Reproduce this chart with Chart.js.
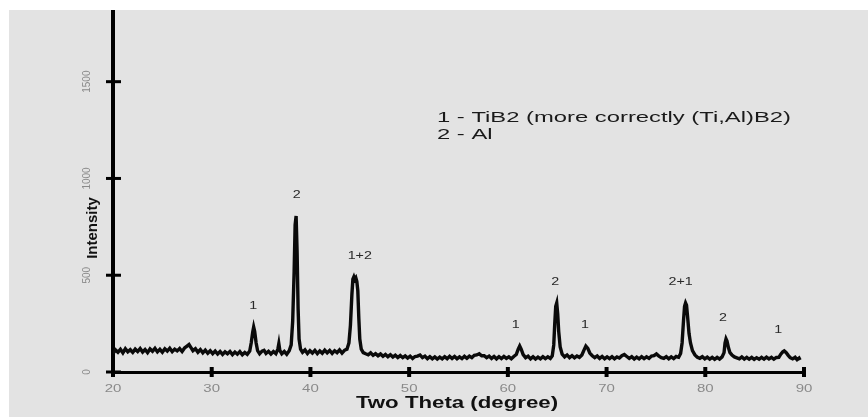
<!DOCTYPE html>
<html>
<head>
<meta charset="utf-8">
<script src="https://cdn.jsdelivr.net/npm/chart.js@4.4.0/dist/chart.umd.min.js"></script>
<style>
  html, body { margin: 0; padding: 0; background: #fff; }
  #wrap { width: 868px; height: 417px; }
</style>
</head>
<body>
<div id="wrap"><canvas id="xrd" width="868" height="417"></canvas></div>
<script>
// diffraction pattern
const twoTheta = [
  20.0, 20.25, 20.5, 20.75, 21.0, 21.25, 21.5, 21.75, 22.0, 22.25, 22.5, 22.75,
  23.0, 23.25, 23.5, 23.75, 24.0, 24.25, 24.5, 24.75, 25.0, 25.25, 25.5, 25.75,
  26.0, 26.25, 26.5, 26.75, 27.0, 27.25, 27.5, 27.7, 27.9, 28.1, 28.35, 28.6,
  28.85, 29.1, 29.35, 29.6, 29.85, 30.1, 30.35, 30.6, 30.85, 31.1, 31.35, 31.6,
  31.85, 32.1, 32.35, 32.6, 32.85, 33.1, 33.35, 33.6, 33.85, 34.0, 34.15, 34.25,
  34.35, 34.5, 34.65, 34.85, 35.1, 35.3, 35.5, 35.75, 36.0, 36.25, 36.5, 36.7,
  36.8, 36.9, 37.1, 37.35, 37.6, 37.85, 38.05, 38.2, 38.35, 38.45, 38.55, 38.65,
  38.75, 38.85, 39.0, 39.2, 39.45, 39.7, 39.95, 40.2, 40.45, 40.7, 40.95, 41.2,
  41.45, 41.7, 41.95, 42.2, 42.45, 42.7, 42.95, 43.2, 43.45, 43.7, 43.9, 44.05,
  44.2, 44.3, 44.4, 44.5, 44.6, 44.7, 44.8, 44.9, 45.0, 45.15, 45.35, 45.6,
  45.85, 46.1, 46.35, 46.6, 46.85, 47.1, 47.35, 47.6, 47.85, 48.1, 48.35, 48.6,
  48.85, 49.1, 49.35, 49.6, 49.85, 50.1, 50.35, 50.6, 50.85, 51.1, 51.35, 51.6,
  51.85, 52.1, 52.35, 52.6, 52.85, 53.1, 53.35, 53.6, 53.85, 54.1, 54.35, 54.6,
  54.85, 55.1, 55.35, 55.6, 55.85, 56.1, 56.35, 56.6, 56.85, 57.1, 57.35, 57.6,
  57.85, 58.1, 58.35, 58.6, 58.85, 59.1, 59.35, 59.6, 59.85, 60.1, 60.35, 60.6,
  60.85, 61.05, 61.2, 61.35, 61.55, 61.8, 62.05, 62.3, 62.55, 62.8, 63.05, 63.3,
  63.55, 63.8, 64.05, 64.3, 64.5, 64.65, 64.75, 64.85, 64.95, 65.05, 65.15, 65.3,
  65.5, 65.75, 66.0, 66.25, 66.5, 66.75, 67.0, 67.25, 67.5, 67.7, 67.9, 68.1,
  68.3, 68.55, 68.8, 69.05, 69.3, 69.55, 69.8, 70.05, 70.3, 70.55, 70.8, 71.05,
  71.3, 71.55, 71.8, 72.05, 72.3, 72.55, 72.8, 73.05, 73.3, 73.55, 73.8, 74.05,
  74.3, 74.55, 74.8, 75.05, 75.3, 75.55, 75.8, 76.05, 76.3, 76.55, 76.8, 77.05,
  77.3, 77.5, 77.65, 77.8, 77.9, 78.0, 78.1, 78.2, 78.35, 78.5, 78.7, 78.95,
  79.2, 79.45, 79.7, 79.95, 80.2, 80.45, 80.7, 80.95, 81.2, 81.45, 81.7, 81.9,
  82.0, 82.1, 82.2, 82.35, 82.5, 82.7, 82.95, 83.2, 83.45, 83.7, 83.95, 84.2,
  84.45, 84.7, 84.95, 85.2, 85.45, 85.7, 85.95, 86.2, 86.45, 86.7, 86.95, 87.2,
  87.45, 87.65, 87.85, 88.0, 88.2, 88.4, 88.6, 88.85, 89.1, 89.3, 89.5, 89.6
];
const intensity = [
  96, 114, 102, 117, 99, 120, 104, 115, 101, 118, 106, 121,
  103, 116, 100, 119, 107, 122, 104, 117, 102, 120, 108, 123,
  105, 118, 109, 121, 106, 124, 134, 142, 126, 110, 120, 102,
  116, 99, 113, 97, 110, 95, 108, 93, 106, 91, 104, 94,
  106, 90, 103, 92, 105, 89, 101, 91, 108, 150, 205, 232,
  210, 150, 110, 94, 108, 112, 96, 107, 93, 106, 95, 118,
  146, 112, 94, 106, 92, 110, 140, 260, 520, 760, 806, 620,
  330, 170, 118, 102, 114, 96, 110, 98, 112, 95, 109, 97,
  113, 99, 111, 96, 110, 100, 114, 98, 112, 118, 150, 240,
  400, 480, 492, 478, 486, 468, 420, 280, 170, 118, 100, 94,
  89, 99, 86, 95, 84, 93, 81, 91, 79, 89, 77, 87,
  75, 85, 74, 83, 72, 82, 70, 80, 82, 88, 74, 82,
  69, 79, 68, 78, 67, 77, 68, 79, 69, 81, 70, 80,
  68, 78, 69, 81, 71, 82, 74, 86, 88, 94, 84, 84,
  74, 82, 70, 80, 68, 79, 69, 80, 70, 78, 68, 80,
  90, 118, 134, 118, 90, 74, 82, 68, 79, 67, 77, 68,
  79, 69, 78, 70, 84, 140, 250, 340, 357, 300, 210, 130,
  92, 78, 88, 74, 84, 73, 83, 76, 88, 112, 134, 122,
  98, 84, 74, 83, 70, 80, 68, 78, 69, 79, 68, 78,
  72, 84, 90, 80, 70, 79, 67, 77, 68, 79, 69, 78,
  70, 82, 84, 93, 82, 74, 70, 79, 68, 78, 69, 80,
  76, 96, 150, 270, 340, 357, 345, 290, 200, 150, 110, 88,
  76, 71, 79, 68, 77, 67, 76, 66, 76, 67, 78, 100,
  150, 171, 160, 125, 100, 88, 78, 73, 68, 78, 67, 76,
  66, 75, 65, 74, 66, 76, 67, 77, 68, 76, 66, 75,
  76, 92, 104, 109, 100, 86, 74, 68, 76, 64, 72, 62
];

const xTicks = [20, 30, 40, 50, 60, 70, 80, 90];
const yTicks = [0, 500, 1000, 1500];

// phase marks over the reflections
const peakLabels = ["1", "2", "1+2", "1", "2", "1", "2+1", "2", "1"];
const peakLabelAngle = [34.2, 38.6, 45.0, 60.8, 64.8, 67.8, 77.5, 81.8, 87.4];
const peakApex = [233, 806, 492, 134, 357, 134, 357, 171, 109];

const legendLines = ["1 - TiB2 (more correctly (Ti,Al)B2)", "2 - Al"];
const xTitle = "Two Theta (degree)";
const yTitle = "Intensity";

// the scan was scaled wider than tall, so text is stretched sideways
function wideText(ctx, text, x, y, sx) {
  ctx.save();
  ctx.translate(x, y);
  ctx.scale(sx, 1);
  ctx.fillText(text, 0, 0);
  ctx.restore();
}

const paperPlugin = {
  id: "paper",
  beforeDraw(chart) {
    const ctx = chart.ctx;
    ctx.save();
    ctx.fillStyle = "#ffffff";
    ctx.fillRect(0, 0, chart.width, chart.height);
    ctx.fillStyle = "#e3e3e3";
    ctx.fillRect(9, 10, chart.width - 9, chart.height - 10);
    ctx.restore();
  },
  afterDraw(chart) {
    const ctx = chart.ctx;
    const xs = chart.scales.x;
    const ys = chart.scales.y;
    const area = chart.chartArea;
    ctx.save();

    // tick marks crossing the axes
    ctx.strokeStyle = "#000";
    ctx.lineWidth = 3;
    yTicks.forEach((v) => {
      const py = ys.getPixelForValue(v);
      ctx.beginPath();
      ctx.moveTo(area.left - 7, py);
      ctx.lineTo(area.left + 8, py);
      ctx.stroke();
    });
    ctx.lineWidth = 4;
    xTicks.forEach((v) => {
      const px = xs.getPixelForValue(v);
      ctx.beginPath();
      ctx.moveTo(px, area.bottom - 5);
      ctx.lineTo(px, area.bottom + 5);
      ctx.stroke();
    });

    // x tick labels
    ctx.fillStyle = "#8a8a8a";
    ctx.font = "10px 'Liberation Sans', Arial, sans-serif";
    ctx.textAlign = "center";
    ctx.textBaseline = "middle";
    xTicks.forEach((v) => {
      wideText(ctx, String(v), xs.getPixelForValue(v), area.bottom + 17, 1.5);
    });

    // y tick labels, turned
    yTicks.forEach((v) => {
      ctx.save();
      ctx.translate(area.left - 26, ys.getPixelForValue(v));
      ctx.rotate(-Math.PI / 2);
      ctx.fillText(String(v), 0, 0);
      ctx.restore();
    });

    // axis titles
    ctx.fillStyle = "#111";
    ctx.font = "bold 16px 'Liberation Sans', Arial, sans-serif";
    wideText(ctx, xTitle, 457, area.bottom + 32, 1.39);

    ctx.save();
    ctx.translate(area.left - 20, 228);
    ctx.rotate(-Math.PI / 2);
    ctx.font = "bold 15px 'Liberation Sans', Arial, sans-serif";
    ctx.fillText(yTitle, 0, 0);
    ctx.restore();

    // peak marks
    ctx.fillStyle = "#2a2a2a";
    ctx.font = "11px 'Liberation Sans', Arial, sans-serif";
    peakLabels.forEach((t, i) => {
      const px = xs.getPixelForValue(peakLabelAngle[i]);
      const py = ys.getPixelForValue(peakApex[i]) - 21;
      wideText(ctx, t, px, py, 1.3);
    });

    // key
    ctx.fillStyle = "#1a1a1a";
    ctx.font = "14px 'Liberation Sans', Arial, sans-serif";
    ctx.textAlign = "left";
    legendLines.forEach((t, i) => {
      wideText(ctx, t, 437, 118 + i * 17, 1.7);
    });

    ctx.restore();
  },
};

const points = twoTheta.map((x, i) => ({ x: x, y: intensity[i] }));

new Chart(document.getElementById("xrd"), {
  type: "line",
  data: {
    datasets: [
      {
        label: "XRD",
        data: points,
        borderColor: "#0a0a0a",
        borderWidth: 3.4,
        pointRadius: 0,
        tension: 0,
        fill: false,
      },
    ],
  },
  options: {
    responsive: false,
    animation: false,
    devicePixelRatio: 1,
    layout: { padding: { left: 113, right: 64, top: 12, bottom: 45 } },
    plugins: {
      legend: { display: false },
      tooltip: { enabled: false },
    },
    scales: {
      x: {
        type: "linear",
        min: 20,
        max: 90,
        afterBuildTicks: (s) => { s.ticks = xTicks.map((v) => ({ value: v })); },
        ticks: { display: false },
        grid: { display: false, drawTicks: false },
        border: { display: true, color: "#000", width: 3 },
      },
      y: {
        min: 0,
        max: 1860,
        afterBuildTicks: (s) => { s.ticks = yTicks.map((v) => ({ value: v })); },
        ticks: { display: false },
        grid: { display: false, drawTicks: false },
        border: { display: true, color: "#000", width: 4 },
      },
    },
  },
  plugins: [paperPlugin],
});
</script>
</body>
</html>
